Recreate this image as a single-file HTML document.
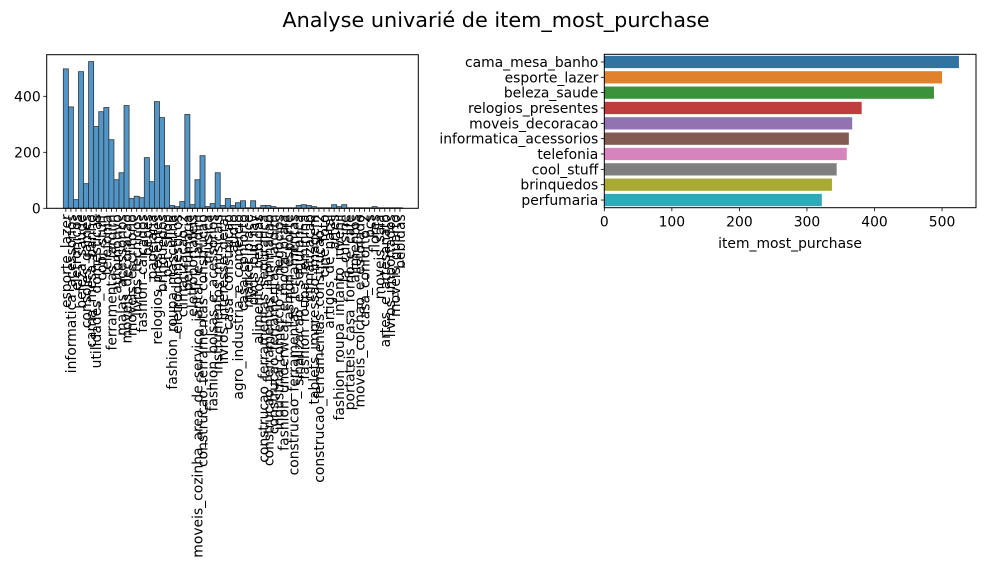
<!DOCTYPE html>
<html><head><meta charset="utf-8">
<style>
html,body{margin:0;padding:0;background:#fff;}
svg{display:block;font-family:"DejaVu Sans","Liberation Sans",sans-serif;}
</style></head>
<body>
<svg id="fig" width="986" height="572" viewBox="0 0 986 572" xmlns="http://www.w3.org/2000/svg">
<text x="496" y="27" font-size="20.8" text-anchor="middle" fill="#000">Analyse univarié de item_most_purchase</text>
<g id="left"></g>
<g id="right"></g>
</svg>
<script>
const histCategories = ['esporte_lazer','informatica_acessorios','eletronicos','beleza_saude','consoles_games','cama_mesa_banho','utilidades_domesticas','cool_stuff','telefonia','ferramentas_jardim','automotivo','malas_acessorios','moveis_decoracao','moveis_escritorio','livros_tecnicos','fashion_calcados','bebes','papelaria','relogios_presentes','brinquedos','pet_shop','fashion_roupa_masculina','eletrodomesticos','climatizacao_2','perfumaria','eletroportateis','moveis_cozinha_area_de_servico_jantar_e_jardim','construcao_ferramentas_construcao','musica','fashion_bolsas_e_acessorios','instrumentos_musicais','livros_interesse_geral','casa_construcao','audio','agro_industria_e_comercio','casa_conforto','market_place','dvds_blu_ray','alimentos_bebidas','construcao_ferramentas_seguranca','construcao_ferramentas_iluminacao','construcao_ferramentas_jardim','industria_comercio_e_negocios','fashion_underwear_e_moda_praia','fashion_esporte','construcao_ferramentas_ferramentas','sinalizacao_e_seguranca','fashion_roupa_feminina','climatizacao','tablets_impressao_imagem','construcao_ferramentas_construcao_2','cine_foto','artigos_de_natal','artes','fashion_roupa_infanto_juvenil','la_cuisine','portateis_casa_forno_e_cafe','alimentos','moveis_colchao_e_estofado','casa_conforto_2','pcs','flores','moveis_sala','artes_e_artesanato','livros_importados','moveis_quarto','bebidas'];
const histCounts = [498,362,31,488,88,524,292,345,360,245,102,127,367,35,43,38,181,95,381,324,152,10,6,24,335,13,102,188,6,17,127,10,35,10,20,27,2,27,2,10,10,6,2,2,2,2,10,13,10,6,2,2,2,13,6,13,2,2,2,2,2,6,2,2,2,2,2];
const histTicks = [0,200,400];
const barCategories = ['cama_mesa_banho','esporte_lazer','beleza_saude','relogios_presentes','moveis_decoracao','informatica_acessorios','telefonia','cool_stuff','brinquedos','perfumaria'];
const barValues = [525,500,488,381,367,362,359,344,337,322];
const barTicks = [0,100,200,300,400,500];
const barColors = ['#3274a1','#e1812c','#3a923a','#c03d3e','#9372b2','#845b53','#d684bd','#7f7f7f','#a9aa35','#2eaab8'];

const NS='http://www.w3.org/2000/svg';
function mk(parent,tag,attrs){const e=document.createElementNS(NS,tag);for(const k in attrs)e.setAttribute(k,attrs[k]);parent.appendChild(e);return e;}
const FS=13.9;

// left histogram
const L={x0:46.7,x1:418.3,y0:54.7,y1:208.3};
const lg=document.getElementById('left');
const hy=v=>L.y1-v*0.28;
const n=histCounts.length;
const bw=(402.5-63.3)/n;
const hx=i=>63.3+i*bw;
histCounts.forEach((v,i)=>{
  const r=mk(lg,'rect',{x:hx(i),y:hy(v),width:bw,height:L.y1-hy(v),fill:'#5196c9',stroke:'#333',"stroke-width":0.8});
  
  
});
const lf=mk(lg,'rect',{x:L.x0,y:L.y0,width:L.x1-L.x0,height:L.y1-L.y0,fill:'none',stroke:'#000',"stroke-width":1});


histTicks.forEach(t=>{
  mk(lg,'line',{x1:L.x0-3.5,x2:L.x0,y1:hy(t),y2:hy(t),stroke:'#000',"stroke-width":0.8});
  const tx=mk(lg,'text',{x:L.x0-6,y:hy(t)+5,"font-size":FS,"text-anchor":"end"});
  tx.textContent=t;
  
  
});
histCategories.forEach((c,i)=>{
  const cx=hx(i)+bw/2;
  mk(lg,'line',{x1:cx,x2:cx,y1:L.y1,y2:L.y1+3.5,stroke:'#000',"stroke-width":0.8});
  const tx=mk(lg,'text',{x:0,y:0,"font-size":FS,"text-anchor":"end",transform:`translate(${cx+5},${L.y1+6}) rotate(-90)`});
  tx.textContent=c;
  
  
});

// right bar chart
const R={x0:604.3,x1:976,y0:54.3,y1:207.7};
const rg=document.getElementById('right');
const rx=v=>R.x0+v*0.6755;
const band=(R.y1-R.y0)/barCategories.length;
barCategories.forEach((c,i)=>{
  const yc=R.y0+band*(i+0.5);
  const r=mk(rg,'rect',{x:R.x0,y:yc-band*0.4,width:rx(barValues[i])-R.x0,height:band*0.8,fill:barColors[i]});
  
  
  mk(rg,'line',{x1:R.x0-3.5,x2:R.x0,y1:yc,y2:yc,stroke:'#000',"stroke-width":0.8});
  const tx=mk(rg,'text',{x:R.x0-6,y:yc+5,"font-size":FS,"text-anchor":"end"});
  tx.textContent=c;
  
  
});
const rf=mk(rg,'rect',{x:R.x0,y:R.y0,width:R.x1-R.x0,height:R.y1-R.y0,fill:'none',stroke:'#000',"stroke-width":1});


barTicks.forEach(t=>{
  mk(rg,'line',{x1:rx(t),x2:rx(t),y1:R.y1,y2:R.y1+3.5,stroke:'#000',"stroke-width":0.8});
  const tx=mk(rg,'text',{x:rx(t),y:R.y1+19,"font-size":FS,"text-anchor":"middle"});
  tx.textContent=t;
  
  
});
const xt=mk(rg,'text',{x:790,y:248,"font-size":FS,"text-anchor":"middle"});
xt.textContent='item_most_purchase';


</script>
</body></html>
